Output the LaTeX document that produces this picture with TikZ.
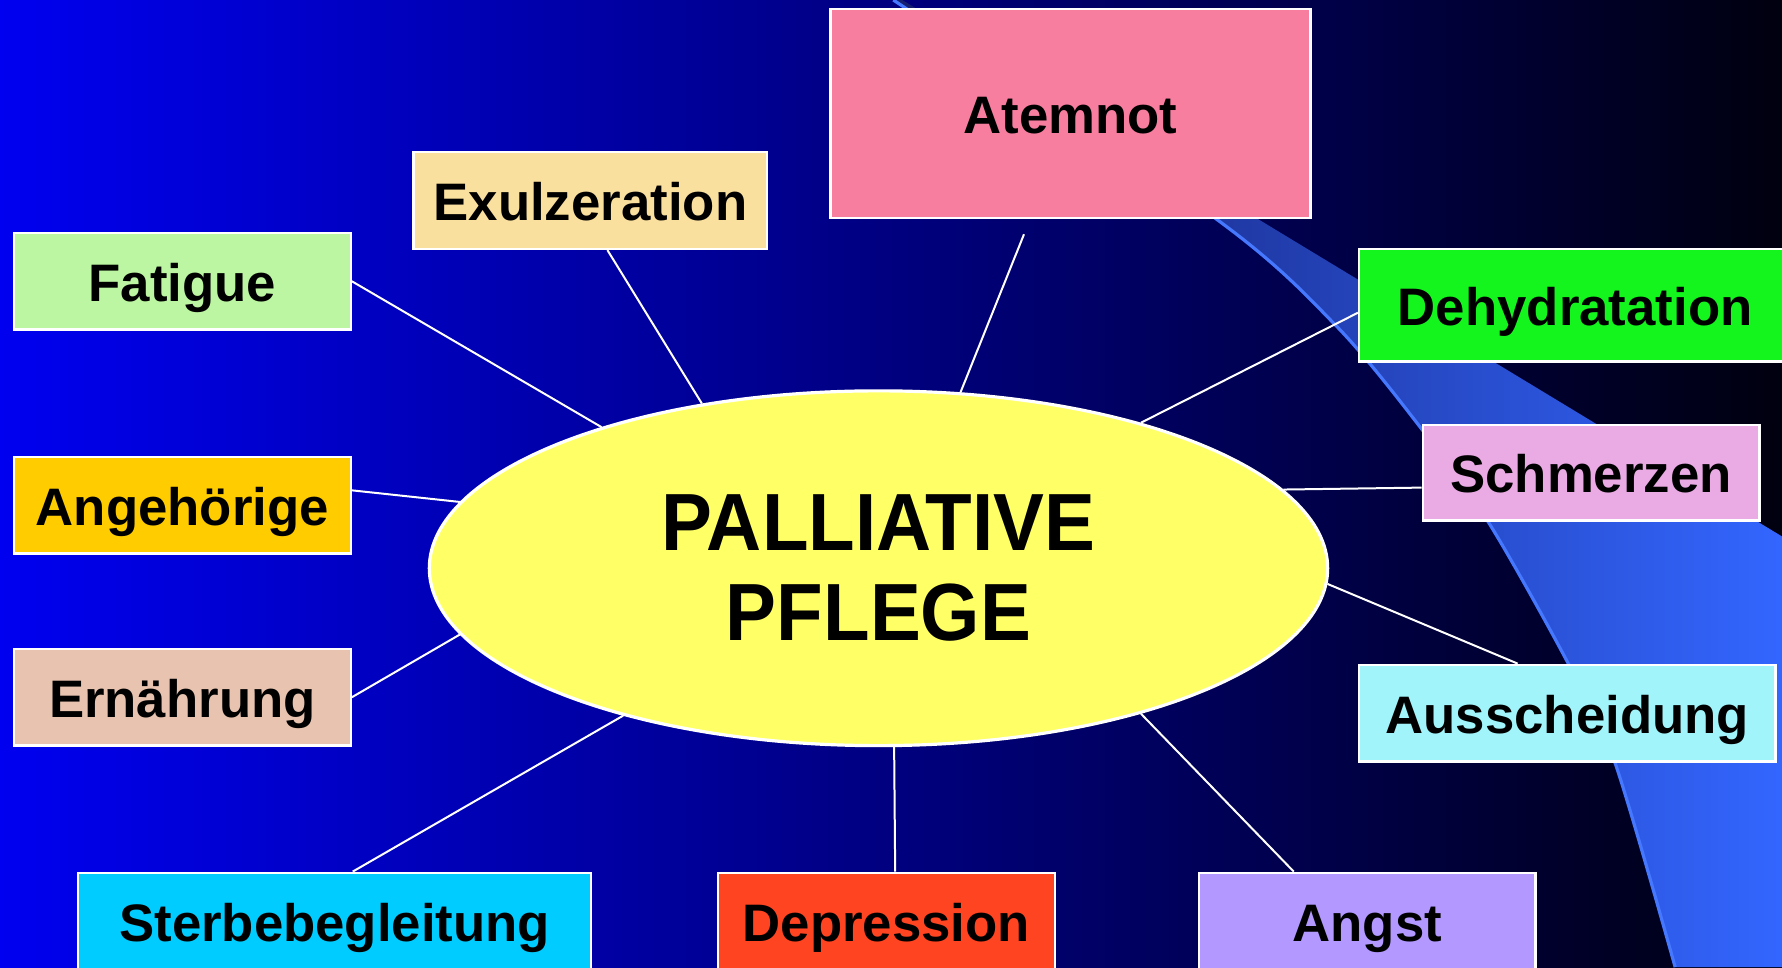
\documentclass[tikz,border=0pt]{standalone}
\usepackage{fontspec}
\setmainfont{Liberation Sans}
\usepackage{graphicx}
\usetikzlibrary{shapes.geometric}
\definecolor{bglinks}{RGB}{0,0,240}
\definecolor{bgmitte}{RGB}{0,0,190}
\definecolor{bgrechts}{RGB}{0,0,15}
\definecolor{bogena}{RGB}{20,30,110}
\definecolor{bogenb}{RGB}{51,102,255}
\definecolor{bogenrand}{RGB}{70,120,255}
\definecolor{gelb}{RGB}{255,255,102}
\definecolor{rosa}{RGB}{248,126,160}
\definecolor{sand}{RGB}{250,224,158}
\definecolor{hellgruen}{RGB}{188,246,162}
\definecolor{orange}{RGB}{255,204,0}
\definecolor{haut}{RGB}{232,196,176}
\definecolor{cyan}{RGB}{0,204,255}
\definecolor{rot}{RGB}{255,68,34}
\definecolor{lila}{RGB}{178,152,255}
\definecolor{tuerkis}{RGB}{160,244,250}
\definecolor{flieder}{RGB}{234,170,228}
\definecolor{gruen}{RGB}{20,245,30}
\begin{document}
\begin{tikzpicture}[x=0.01cm,y=-0.01cm]
            \tikzstyle{feld}=[rectangle,draw=white,line width=0.6pt,inner sep=0pt,minimum width=2.96cm,minimum height=0.85cm,text height=12pt,text depth=2pt,font=\fontsize{13.2}{15}\selectfont\bfseries]
            \tikzset{edge/.style = {draw=white,line width=0.5pt}}
            \shade[left color=bglinks,middle color=bgmitte,right color=bgrechts] (0,0) rectangle (1568,851);
            \useasboundingbox (0,0) rectangle (1568,851);
            \shade[left color=bogena,right color=bogenb] plot[smooth] coordinates {(786,0) (1072,194) (1176,287) (1249,375) (1310,460) (1380,584) (1421,671) (1474,851)} -- (1568,851) -- (1568,472) -- (1109,194) -- (794,0) -- cycle;
            \draw[bogenrand,line width=0.8pt] plot[smooth] coordinates {(786,0) (1072,194) (1176,287) (1249,375) (1310,460) (1380,584) (1421,671) (1474,851)};
            \node[ellipse,fill=gelb,draw=white,line width=0.8pt,inner sep=0pt,minimum width=7.9cm,minimum height=3.12cm,align=center,font=\fontsize{20.3}{22.4}\selectfont\bfseries] (pal) at (773,500) {\scalebox{0.94}[1]{PALLIATIVE}\\\scalebox{0.94}[1]{PFLEGE}};
            \node[feld,fill=rosa,minimum width=4.22cm,minimum height=1.84cm] (atem) at (942,100) {Atemnot};
            \node[feld,fill=sand,minimum width=3.11cm] (exu) at (519.5,176.5) {Exulzeration};
            \node[feld,fill=hellgruen] (fat) at (160.5,247.5) {Fatigue};
            \node[feld,fill=orange] (ang) at (160.5,444.5) {Angehörige};
            \node[feld,fill=haut] (ern) at (160.5,613.5) {Ernährung};
            \node[feld,fill=cyan,minimum width=4.51cm] (ster) at (294.5,810.5) {Sterbebegleitung};
            \node[feld,fill=rot] (dep) at (780,810.5) {Depression};
            \node[feld,fill=lila] (angst) at (1203,810.5) {Angst};
            \node[feld,fill=tuerkis,minimum width=3.66cm] (aus) at (1379,627.5) {Ausscheidung};
            \node[feld,fill=flieder,minimum height=0.84cm] (schm) at (1400,416) {Schmerzen};
            \node[feld,fill=gruen,minimum width=3.8cm,minimum height=0.99cm] (dehy) at (1386,268.5) {Dehydratation};
            \draw[edge] (fat.east) -- (pal.153.5);
            \draw[edge] (exu.-71) -- (pal.137.5);
            \draw[edge,shorten <=0.14cm] (atem.-111.6) -- (pal.65.1);
            \draw[edge] (dehy.182.6) -- (pal.29);
            \draw[edge] (schm.185.4) -- (pal.11.2);
            \draw[edge] (aus.135.3) -- (pal.-2.2);
            \draw[edge] (angst.146.4) -- (pal.-29.8);
            \draw[edge] (dep.80.6) -- (pal.-85);
            \draw[edge] (ster.70) -- (pal.-150.4);
            \draw[edge] (ern.east) -- (pal.189.1);
            \draw[edge] (ang.5.6) -- (pal.171.2);
        \end{tikzpicture}
\end{document}
